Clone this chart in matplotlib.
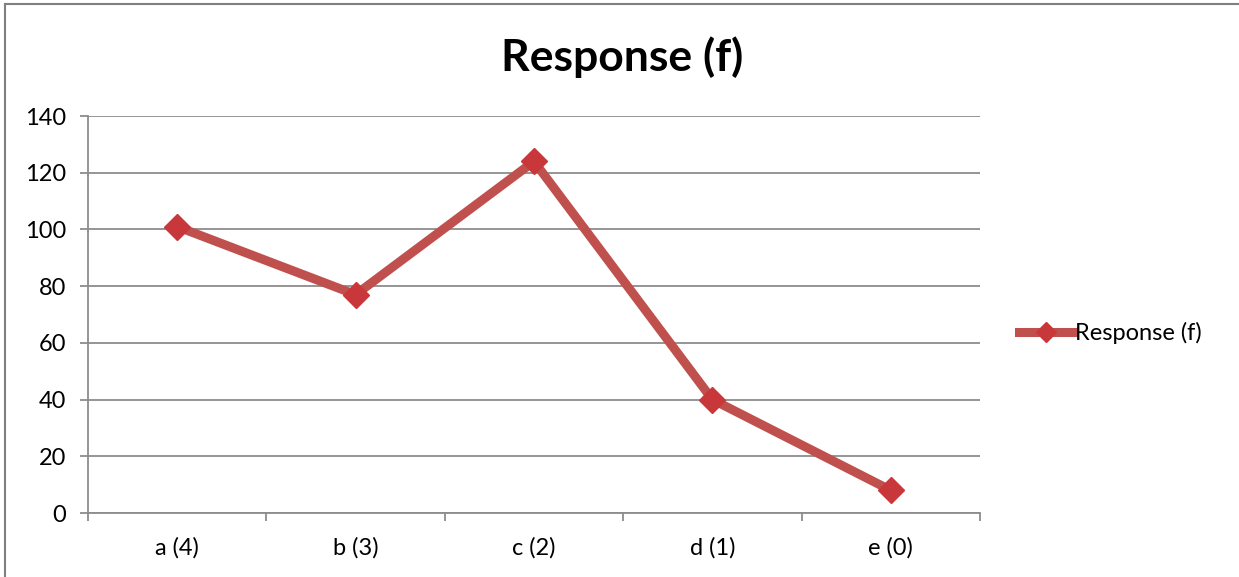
import matplotlib.pyplot as plt
from matplotlib.lines import Line2D

plt.rcParams['font.family'] = ['Lato', 'DejaVu Sans']

categories = ['a (4)', 'b (3)', 'c (2)', 'd (1)', 'e (0)']
response = [101, 77, 124, 40, 8]
yticks = [0, 20, 40, 60, 80, 100, 120, 140]

red = '#C0504D'
grid = '#8c8c8c'

fig = plt.figure(figsize=(12.39, 5.77), dpi=100)
ax = fig.add_axes([88 / 1239, 1 - 513 / 577, (980 - 88) / 1239, (513 - 116) / 577])

x = [i + 0.5 for i in range(len(categories))]
ax.plot(x, response, color=red, lw=6.5, marker='D', markersize=13,
        markerfacecolor='#c8383a', markeredgecolor='#c8383a',
        solid_joinstyle='miter', label='Response (f)', zorder=3)

ax.set_xlim(0, len(categories))
ax.set_ylim(0, 140)
ax.set_yticks(yticks)
ax.set_xticks(x)
ax.set_xticklabels(categories)
ax.set_xticks(range(len(categories) + 1), minor=True)
ax.grid(axis='y', color=grid, lw=1.3)
ax.set_axisbelow(True)

for s in ['top', 'right']:
    ax.spines[s].set_visible(False)
for s in ['left', 'bottom']:
    ax.spines[s].set_color(grid)
    ax.spines[s].set_linewidth(1.3)

ax.tick_params(axis='y', length=6, width=1.3, color=grid, labelsize=17, pad=10)
ax.tick_params(axis='x', which='major', length=0, labelsize=17, pad=17)
ax.tick_params(axis='x', which='minor', length=6, width=1.3, color=grid)

fig.text(622 / 1239, 1 - 57 / 577, 'Response (f)', ha='center', va='center',
         fontsize=32, fontweight='bold')

leg = ax.legend(loc='center left', bbox_to_anchor=(998 / 1239, 1 - 333 / 577),
                bbox_transform=fig.transFigure, frameon=False, fontsize=17,
                handlelength=2.3, handletextpad=0.05, markerscale=0.75)

# outer chart border
fig.add_artist(Line2D([5 / 1239, 1], [1 - 4 / 577, 1 - 4 / 577],
                      transform=fig.transFigure, color='#808080', lw=1.5))
fig.add_artist(Line2D([5 / 1239, 5 / 1239], [0, 1 - 4 / 577],
                      transform=fig.transFigure, color='#808080', lw=1.5))

fig.savefig('out.png', dpi=100)
